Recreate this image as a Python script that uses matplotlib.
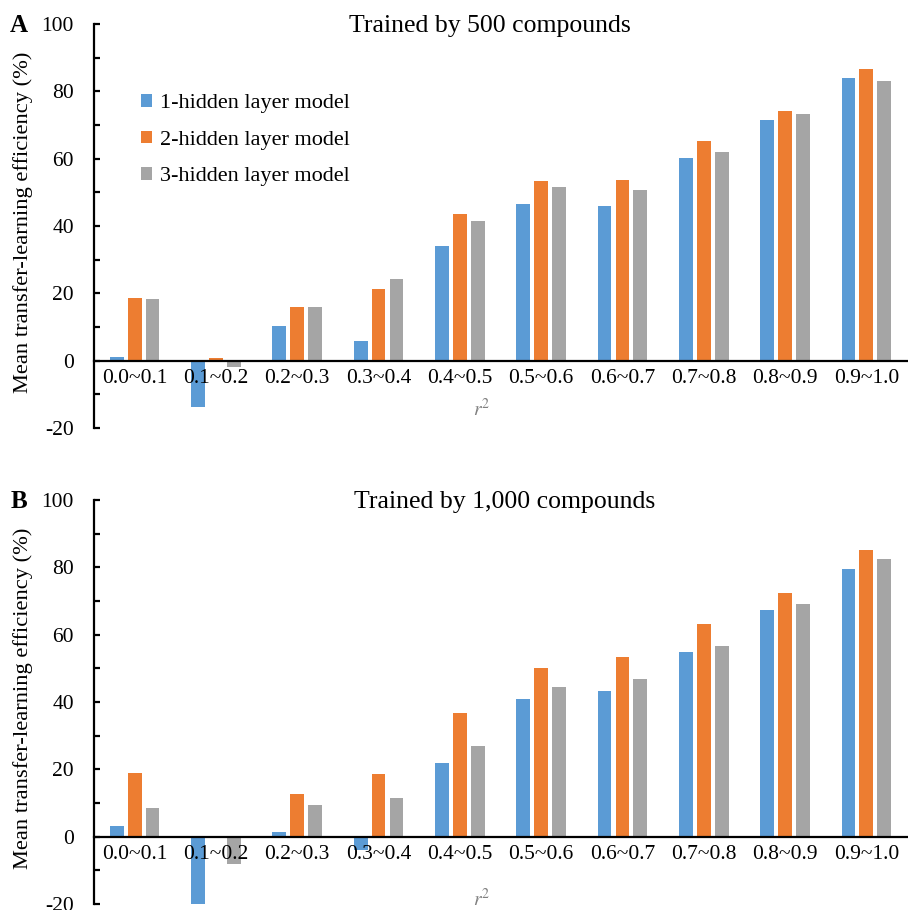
import matplotlib
matplotlib.use("Agg")
import matplotlib.pyplot as plt
import numpy as np
from matplotlib.transforms import blended_transform_factory

plt.rcParams['font.family'] = ['Liberation Serif', 'DejaVu Serif']
plt.rcParams['axes.unicode_minus'] = False
plt.rcParams['mathtext.fontset'] = 'stix'

categories = ["0.0~0.1", "0.1~0.2", "0.2~0.3", "0.3~0.4", "0.4~0.5",
              "0.5~0.6", "0.6~0.7", "0.7~0.8", "0.8~0.9", "0.9~1.0"]
series_names = ["1-hidden layer model", "2-hidden layer model", "3-hidden layer model"]

# Panel A: trained by 500 compounds
a_one = [1.0, -13.9, 10.2, 5.7, 34.1, 46.5, 45.9, 60.1, 71.5, 84.0]
a_two = [18.7, 0.8, 15.8, 21.3, 43.5, 53.5, 53.8, 65.3, 74.1, 86.6]
a_three = [18.3, -1.8, 15.8, 24.3, 41.5, 51.7, 50.7, 61.9, 73.3, 83.0]

# Panel B: trained by 1,000 compounds
b_one = [3.2, -20.3, 1.3, -4.0, 21.9, 40.8, 43.2, 55.0, 67.2, 79.6]
b_two = [19.0, 0.0, 12.7, 18.7, 36.8, 50.0, 53.3, 63.1, 72.3, 85.1]
b_three = [8.4, -8.0, 9.5, 11.6, 27.0, 44.5, 46.8, 56.5, 69.1, 82.6]

titles = ["Trained by 500 compounds", "Trained by 1,000 compounds"]
panel_letters = ["A", "B"]
yticks = [-20, 0, 20, 40, 60, 80, 100]
colors = ["#5B9BD5", "#ED7D31", "#A5A5A5"]

W, H = 908, 910
fig = plt.figure(figsize=(W / 100, H / 100), dpi=100)

def fx(px):
    return px / W

def fy(py):
    return 1 - py / H

panels = [
    dict(top=24, bottom=428, data=[a_one, a_two, a_three], title_x=490, legend=True),
    dict(top=500, bottom=904, data=[b_one, b_two, b_three], title_x=505, legend=False),
]

x = np.arange(len(categories))
bw = 0.17
offs = [-0.22, 0.0, 0.22]

for k, p in enumerate(panels):
    left, right = 94, 907
    ax = fig.add_axes([fx(left), fy(p['bottom']), fx(right) - fx(left), fy(p['top']) - fy(p['bottom'])])
    handles = []
    for s in range(3):
        h = ax.bar(x + offs[s], p['data'][s], width=bw, color=colors[s], label=series_names[s], zorder=1)
        handles.append(h)
    ax.set_xlim(-0.5, len(categories) - 0.5)
    ax.set_ylim(-20, 100)
    for sp in ['top', 'right']:
        ax.spines[sp].set_visible(False)
    ax.spines['bottom'].set_position(('data', 0))
    ax.spines['bottom'].set_linewidth(1.6)
    ax.spines['left'].set_linewidth(1.6)
    ax.set_xticks(x)
    ax.set_xticklabels(categories, fontsize=15.5)
    ax.tick_params(axis='x', length=0, pad=6)
    ax.set_yticks(yticks)
    ax.set_yticks(np.arange(-10, 100, 20), minor=True)
    ax.tick_params(axis='y', which='both', direction='in', length=4, width=1.6, labelsize=15.5, pad=14.5)
    ax.patch.set_alpha(0)

    tr = blended_transform_factory(fig.transFigure, ax.transData)
    ax.text(fx(p['title_x']), 99.4, titles[k], transform=tr, ha='center', va='center', fontsize=18.5)
    ax.text(fx(482), -14.5 if k == 0 else -18.5, r"$\mathit{r}^{2}$", transform=tr, ha='center', va='center',
            fontsize=14, color='#7F7F7F')
    fig.text(fx(19), fy(p['top'] + 1), panel_letters[k], ha='center', va='center', fontsize=18, fontweight='bold')
    fig.text(fx(23), fy((p['top'] + p['bottom']) / 2 - 4), "Mean transfer-learning efficiency (%)",
             rotation=90, ha='center', va='center', fontsize=16.2)

    if p['legend']:
        ax.legend(handles=handles, loc='upper left', bbox_to_anchor=(fx(141), fy(94)),
                  bbox_transform=fig.transFigure, frameon=False, fontsize=16,
                  handlelength=0.5, handleheight=0.5, handletextpad=0.35,
                  labelspacing=0.78, borderpad=0, borderaxespad=0)

fig.savefig("out.png", dpi=100)
